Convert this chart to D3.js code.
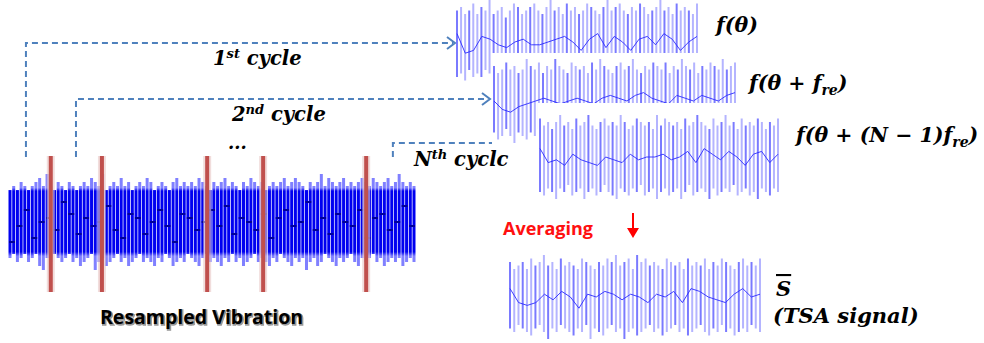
<!DOCTYPE html>
<html>
<head>
<meta charset="utf-8">
<script src="https://cdn.jsdelivr.net/npm/d3@7"></script>
<style>
  html, body { margin: 0; padding: 0; background: #fff; }
  svg { display: block; }
  .math { font-family: "DejaVu Serif", serif; font-weight: bold; font-style: italic; fill: #000; }
  .sans { font-family: "Open Sans", Lato, sans-serif; font-weight: bold; }
</style>
</head>
<body>
<div id="chart"></div>
<script>
// Resampled vibration: peak values of every stroke (units, + up), and the slow trace
const mainHi = [
  8, 9, 8, 10, 9, 8, 9, 10, 11, 9,
  12, 9, 8, 10, 9, 8, 10, 9, 8, 9,
  10, 9, 11, 10, 9, 12, 8, 9, 10, 9,
  11, 9, 10, 8, 9, 10, 9, 11, 10, 8,
  9, 10, 9, 8, 10, 11, 9, 10, 9, 10,
  9, 11, 10, 9, 8, 10, 9, 10, 11, 9,
  10, 9, 8, 10, 9, 11, 10, 9, 10, 8,
  9, 10, 9, 10, 11, 9, 10, 11, 10, 9,
  8, 10, 9, 10, 12, 9, 11, 10, 9, 10,
  11, 9, 10, 9, 10, 11, 10, 9, 11, 10,
  9, 10, 11, 9, 10, 12, 10, 9, 10, 9
];
const mainLo = [
  -9, -8, -10, -9, -8, -10, -9, -8, -11, -12,
  -9, -10, -8, -9, -10, -9, -8, -10, -9, -11,
  -10, -9, -8, -12, -10, -9, -11, -10, -9, -8,
  -10, -9, -11, -10, -9, -8, -10, -9, -10, -11,
  -9, -10, -8, -9, -11, -10, -9, -10, -8, -9,
  -10, -11, -9, -8, -10, -9, -10, -11, -9, -10,
  -8, -10, -9, -11, -10, -9, -8, -10, -9, -10,
  -11, -9, -10, -8, -9, -10, -11, -9, -10, -9,
  -12, -10, -9, -11, -10, -8, -9, -10, -11, -9,
  -10, -9, -8, -10, -11, -9, -10, -9, -8, -10,
  -9, -11, -10, -9, -10, -9, -11, -10, -9, -10
];
const mainMid = [
  -5, -1, 3, -4, 0, 1, -2, 5, 2, -3, 1, -1, 0, 4, -2, -4, 2, 1, -3, 0,
  3, -1, -5, 2, 1, -2, 0, 3, -1, 4, -3, 1, 0, -2, 2, -4, 1, 3, -1, 0,
  5, -2, 1, -3, 2, 0, -1, 3, -4, 1, 2, -2, 0, 4, -1
];

// cycle boundaries and arrow start points, in sample index of the main signal
const cycleMarks = [11, 24.8, 53.2, 68.3, 96.1];
const arrowStarts = [4.3, 17.8, 103.3];

// f(theta)
const p1Hi = [
  9, 10, 8, 9, 11, 8, 10, 9, 12, 8, 9, 10, 7, 9, 11, 10, 8, 9, 10, 11,
  9, 8, 10, 12, 9, 10, 8, 11, 9, 10, 8, 9, 11, 10, 9, 8, 10, 12, 9, 10,
  11, 9, 8, 10, 9, 11, 10, 8, 9, 10, 12, 9, 10, 8, 11, 9, 10, 9, 8, 11
];
const p1Lo = [
  -10, -9, -11, -8, -10, -9, -10, -8, -9, -11, -8, -10, -9, -11, -9, -8, -10, -9, -11, -10,
  -9, -10, -8, -9, -11, -10, -9, -8, -10, -9, -11, -9, -10, -8, -9, -10, -11, -9, -8, -10,
  -9, -11, -10, -9, -8, -10, -9, -11, -10, -9, -8, -10, -9, -11, -10, -9, -8, -10, -9, -10
];
const p1Mid = [3, -4, -3, 2, 1, -1, -2, 0, 1, -1, -1, 0, 1, 2, 0, -3, 1, 3, -2, 2, 0, -3, 1, 2, -1, 3, 1, -3, 0, 2];

// f(theta + f_re)
const p2Hi = [
  10, 8, 9, 11, 9, 10, 8, 9, 12, 10, 9, 11, 8, 10, 9, 12, 10, 9, 8, 11,
  10, 9, 10, 8, 11, 9, 12, 10, 9, 8, 10, 11, 9, 10, 12, 9, 8, 10, 9, 11,
  10, 9, 11, 8, 10, 9, 12, 10, 9, 11, 8, 10, 9, 11, 10, 9, 12, 9, 10, 11
];
const p2Lo = [
  -9, -11, -10, -8, -10, -12, -9, -10, -11, -9, -10, -8, -11, -9, -10, -9, -11, -8, -10, -9,
  -11, -10, -9, -8, -10, -11, -9, -10, -8, -9, -10, -9, -11, -10, -8, -9, -10, -11, -9, -10,
  -8, -10, -9, -11, -10, -9, -8, -11, -10, -9, -10, -9, -11, -8, -10, -9, -10, -11, -9, -10
];
const p2Mid = [0, -3, -4, -2, -1, 0, 1, 0, -1, 0, 1, 0, -1, 1, 2, 1, 0, 2, 3, 1, 0, -1, 2, 1, 0, 2, 1, 0, 2, 3];

// f(theta + (N-1) f_re)
const p3Hi = [
  11, 9, 10, 8, 10, 12, 9, 10, 8, 11, 9, 10, 12, 9, 8, 10, 11, 9, 10, 9,
  12, 10, 8, 9, 11, 10, 9, 10, 8, 12, 9, 11, 10, 9, 10, 8, 11, 9, 10, 12,
  10, 9, 8, 11, 9, 10, 12, 9, 10, 8, 11, 9, 10, 9, 11, 10, 8, 10, 9, 11
];
const p3Lo = [
  -10, -11, -9, -10, -12, -9, -10, -8, -11, -10, -9, -12, -10, -9, -11, -10, -8, -10, -11, -12,
  -9, -10, -11, -9, -10, -8, -11, -10, -9, -12, -10, -9, -11, -10, -9, -12, -10, -8, -11, -10,
  -9, -10, -12, -9, -11, -10, -9, -10, -8, -11, -10, -9, -11, -10, -12, -9, -10, -11, -9, -10
];
const p3Mid = [3, -2, -1, -3, 1, -1, -2, -3, 0, -1, -2, 1, -1, 0, 0, 1, -1, 0, 2, -2, 3, 1, -1, 2, 0, -3, 1, 2, -2, 1];

// TSA signal (average)
const sHi = [
  10, 8, 9, 10, 8, 11, 9, 10, 12, 9, 10, 8, 11, 9, 10, 9, 8, 11, 10, 9,
  8, 10, 9, 11, 10, 12, 9, 10, 11, 8, 12, 10, 11, 9, 10, 9, 8, 11, 10, 9,
  10, 8, 11, 9, 10, 9, 11, 8, 10, 9, 11, 10, 9, 8, 10, 11, 9, 10, 9, 11
];
const sLo = [
  -9, -10, -8, -9, -10, -11, -9, -8, -10, -12, -9, -10, -8, -9, -10, -11, -9, -10, -8, -12,
  -9, -10, -11, -9, -8, -10, -9, -12, -10, -9, -11, -10, -9, -8, -10, -9, -11, -10, -9, -8,
  -10, -9, -11, -10, -9, -8, -10, -11, -9, -10, -8, -10, -9, -11, -10, -9, -10, -8, -9, -10
];
const sMid = [3, -2, -3, -2, 1, -1, 2, 0, -4, 1, 0, 2, 1, -1, 1, 0, -2, 1, 0, 2, -2, 3, 2, 0, -1, -2, 1, 3, 0, 1];

document.addEventListener('DOMContentLoaded', () => {
  drawTsaDiagram();
});

function drawTsaDiagram() {
  const width = 984, height = 343;
  const arrowColor = '#4f81bd';

  const svg = d3.select('#chart').append('svg')
    .attr('width', width)
    .attr('height', height);

  const defs = svg.append('defs');

  // vertical gradient: dense dark core, lighter tips
  const grad = defs.append('linearGradient')
    .attr('id', 'mainGrad')
    .attr('gradientUnits', 'userSpaceOnUse')
    .attr('x1', 0).attr('x2', 0)
    .attr('y1', 170).attr('y2', 275);
  [[0, '#8080ff'], [0.17, '#8080ff'], [0.2, '#0000f0'], [0.78, '#0000f0'], [0.82, '#8080ff'], [1, '#8080ff']]
    .forEach(s => grad.append('stop').attr('offset', s[0]).attr('stop-color', s[1]));

  const blur = defs.append('filter').attr('id', 'soft').attr('x', '-5%').attr('y', '-20%').attr('width', '110%').attr('height', '140%');
  blur.append('feGaussianBlur').attr('stdDeviation', 0.6);

  // ---- main resampled vibration ----
  const mx = d3.scaleLinear().domain([0, mainHi.length - 1]).range([10, 414]);
  const my = d3.scaleLinear().domain([-12, 12]).range([270, 174]);

  const main = svg.append('g');
  main.selectAll('line.stroke')
    .data(mainHi)
    .enter().append('line')
    .attr('class', 'stroke')
    .attr('x1', (d, i) => mx(i)).attr('x2', (d, i) => mx(i))
    .attr('y1', d => my(d))
    .attr('y2', (d, i) => my(mainLo[i]))
    .attr('stroke', 'url(#mainGrad)')
    .attr('stroke-width', 3);

  // slow trace shows up as short dark dashes between strokes
  const mmx = d3.scaleLinear().domain([0, mainMid.length - 1]).range([12, 412]);
  main.selectAll('line.mid')
    .data(mainMid)
    .enter().append('line')
    .attr('class', 'mid')
    .attr('x1', (d, i) => mmx(i) - 3).attr('x2', (d, i) => mmx(i) + 3)
    .attr('y1', d => my(d)).attr('y2', d => my(d))
    .attr('stroke', '#00009a')
    .attr('stroke-width', 2);

  // cycle boundary markers
  const marks = svg.append('g');
  marks.selectAll('line.halo')
    .data(cycleMarks)
    .enter().append('line')
    .attr('class', 'halo')
    .attr('x1', d => mx(d)).attr('x2', d => mx(d))
    .attr('y1', 156).attr('y2', 292)
    .attr('stroke', '#e8c8c6')
    .attr('stroke-width', 8)
    .attr('opacity', 0.6);
  marks.selectAll('line.mark')
    .data(cycleMarks)
    .enter().append('line')
    .attr('class', 'mark')
    .attr('x1', d => mx(d)).attr('x2', d => mx(d))
    .attr('y1', 156).attr('y2', 292)
    .attr('stroke', '#c0504d')
    .attr('stroke-width', 4);

  // ---- dashed arrows to each cycle ----
  const arrowRows = [
    { y: 43, tip: 455 },
    { y: 99, tip: 490 },
    { y: 143, tip: 537 }
  ];
  const arrows = svg.append('g');
  arrowStarts.forEach((s, k) => {
    const x0 = mx(s), r = arrowRows[k];
    arrows.append('path')
      .attr('d', `M${x0},157 V${r.y} H${r.tip - 2}`)
      .attr('fill', 'none')
      .attr('stroke', arrowColor)
      .attr('stroke-width', 2)
      .attr('stroke-dasharray', '6,4');
    arrows.append('path')
      .attr('d', `M${r.tip - 8},${r.y - 6} L${r.tip},${r.y} L${r.tip - 8},${r.y + 6}`)
      .attr('fill', 'none')
      .attr('stroke', arrowColor)
      .attr('stroke-width', 2);
  });

  // ---- cycle panels ----
  const panels = [
    { hi: p1Hi, lo: p1Lo, mid: p1Mid, x0: 457, x1: 697, cy: 42, bg: null },
    { hi: p2Hi, lo: p2Lo, mid: p2Mid, x0: 494, x1: 735, cy: 101, bg: 53 },
    { hi: p3Hi, lo: p3Lo, mid: p3Mid, x0: 540, x1: 778, cy: 157, bg: 103 },
    { hi: sHi, lo: sLo, mid: sMid, x0: 510, x1: 760, cy: 297, bg: null }
  ];
  panels.forEach(p => drawPanel(p));

  function drawPanel(p) {
    const g = svg.append('g');
    const x = d3.scaleLinear().domain([0, p.hi.length - 1]).range([p.x0, p.x1]);
    const y = d3.scaleLinear().domain([-10, 10]).range([p.cy + 35, p.cy - 35]);
    if (p.bg !== null) {
      g.append('rect')
        .attr('x', p.x0 - 2).attr('y', p.bg)
        .attr('width', p.x1 - p.x0 + 8).attr('height', 100)
        .attr('fill', '#fff');
    }
    g.selectAll('line')
      .data(p.hi)
      .enter().append('line')
      .attr('x1', (d, i) => x(i)).attr('x2', (d, i) => x(i))
      .attr('y1', d => y(d))
      .attr('y2', (d, i) => y(p.lo[i]))
      .attr('stroke', '#5a5aff')
      .attr('stroke-width', 2)
      .attr('opacity', (d, i) => i % 3 === 0 ? 0.8 : 0.45);
    const xm = d3.scaleLinear().domain([0, p.mid.length - 1]).range([p.x0, p.x1]);
    g.append('path')
      .datum(p.mid)
      .attr('d', d3.line().x((d, i) => xm(i)).y(d => y(d * 0.8)))
      .attr('fill', 'none')
      .attr('stroke', '#2a2aff')
      .attr('stroke-width', 0.9);
  }

  // ---- texts ----
  const t = svg.append('g').attr('class', 'math');

  function cycleLabel(x, y, lead, sup, rest) {
    const txt = t.append('text').attr('x', x).attr('y', y).attr('font-size', 19.5);
    txt.append('tspan').text(lead);
    txt.append('tspan').attr('font-size', 13).attr('dy', -7).text(sup);
    txt.append('tspan').attr('dy', 7).text(' ' + rest);
  }
  cycleLabel(213, 65, '1', 'st', 'cycle');
  cycleLabel(232, 121, '2', 'nd', 'cycle');
  cycleLabel(414, 166, 'N', 'th', 'cyclc');
  t.append('text').attr('x', 228).attr('y', 149).attr('font-size', 18).text('...');

  function fLabel(x, y, parts) {
    const txt = t.append('text').attr('x', x).attr('y', y).attr('font-size', 20.5);
    parts.forEach(pt => {
      const s = txt.append('tspan').text(pt.s);
      if (pt.sub) s.attr('font-size', 14).attr('dy', 5);
      if (pt.back) s.attr('dy', -5);
    });
  }
  fLabel(716, 32, [{ s: 'f(θ)' }]);
  fLabel(749, 90, [{ s: 'f(θ + f' }, { s: 're', sub: true }, { s: ')', back: true }]);
  fLabel(796, 142, [{ s: 'f(θ + (N − 1)f' }, { s: 're', sub: true }, { s: ')', back: true }]);

  t.append('text').attr('x', 776).attr('y', 296).attr('font-size', 21)
    .style('text-decoration', 'overline').text('S');
  t.append('text').attr('x', 773).attr('y', 323).attr('font-size', 21).text('(TSA signal)');

  // Averaging + red arrow
  svg.append('text').attr('class', 'sans')
    .attr('x', 503).attr('y', 235)
    .attr('font-size', 18)
    .attr('fill', '#ff1010')
    .text('Averaging');
  svg.append('line')
    .attr('x1', 633).attr('x2', 633).attr('y1', 213).attr('y2', 229)
    .attr('stroke', '#ff0000').attr('stroke-width', 2);
  svg.append('path')
    .attr('d', 'M627,228 L639,228 L633,238 Z')
    .attr('fill', '#ff0000');

  // Resampled Vibration caption with soft shadow
  svg.append('text').attr('class', 'sans')
    .attr('x', 101).attr('y', 325)
    .attr('font-size', 19.5)
    .attr('fill', '#999')
    .attr('filter', 'url(#soft)')
    .attr('stroke', '#999').attr('stroke-width', 1.5)
    .text('Resampled Vibration');
  svg.append('text').attr('class', 'sans')
    .attr('x', 100).attr('y', 324)
    .attr('font-size', 19.5)
    .attr('fill', '#000')
    .text('Resampled Vibration');
}
</script>
</body>
</html>
